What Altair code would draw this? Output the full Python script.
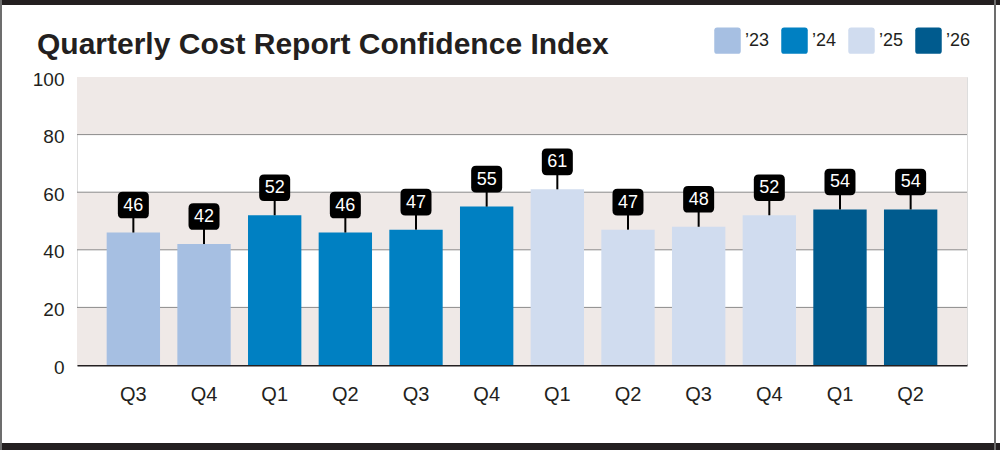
import altair as alt
import pandas as pd

# ---- data ----
years = ["’23", "’23", "’24", "’24", "’24", "’24", "’25", "’25", "’25", "’25", "’26", "’26"]
quarters = ["Q3", "Q4", "Q1", "Q2", "Q3", "Q4", "Q1", "Q2", "Q3", "Q4", "Q1", "Q2"]
values = [46, 42, 52, 46, 47, 55, 61, 47, 48, 52, 54, 54]
legend_years = ["’23", "’24", "’25", "’26"]
year_colors = ["#a6bfe2", "#0080c2", "#d0dcef", "#005b8e"]
band_lo = [0, 40, 80]
band_hi = [20, 60, 100]
grid_values = [20, 40, 60, 80]
y_ticks = [0, 20, 40, 60, 80, 100]

FONT = "Liberation Sans"
INK = "#231f20"
W, H = 890, 288

df = pd.DataFrame({
    "key": [f"{y} {q}" for y, q in zip(years, quarters)],
    "year": years,
    "quarter": quarters,
    "value": values,
})
bands = pd.DataFrame({"lo": band_lo, "hi": band_hi})
grid = pd.DataFrame({"g": grid_values})
one = pd.DataFrame({"a": [0]})

yscale = alt.Scale(domain=[0, 100], nice=False)
yaxis = alt.Axis(values=y_ticks, grid=False, ticks=False, tickSize=0, domain=False,
                 labelPadding=13, labelFontSize=19, labelColor=INK, labelFont=FONT,
                 labelOffset=2, title=None)
xenc = alt.X("key:N", sort=None, title=None,
             scale=alt.Scale(paddingInner=0.245, paddingOuter=0.42),
             axis=alt.Axis(labelExpr="split(datum.label, ' ')[1]", ticks=False, tickSize=0,
                           domain=True, domainColor=INK, domainWidth=2,
                           labelPadding=19, labelFontSize=20, labelColor=INK,
                           labelFont=FONT, labelAngle=0, grid=False))

band_layer = alt.Chart(bands).mark_rect(color="#efe9e7").encode(
    y=alt.Y("lo:Q", scale=yscale, axis=yaxis), y2="hi:Q",
    x=alt.value(0), x2=alt.value("width"))

grid_layer = alt.Chart(grid).mark_rule(color="#8a8a8a", strokeWidth=1).encode(
    y=alt.Y("g:Q", scale=yscale, axis=yaxis),
    x=alt.value(0), x2=alt.value("width"))

base = alt.Chart(df)
bars = base.mark_bar().encode(
    x=xenc,
    y=alt.Y("value:Q", scale=yscale, axis=yaxis),
    color=alt.Color("year:N", scale=alt.Scale(domain=legend_years, range=year_colors),
                    legend=alt.Legend(title=None, orient="none", direction="horizontal",
                                      legendX=637, legendY=-50, padding=0,
                                      symbolType="M -0.78 -1 L 0.78 -1 Q 1 -1 1 -0.78 L 1 0.78 Q 1 1 0.78 1 L -0.78 1 Q -1 1 -1 0.78 L -1 -0.78 Q -1 -1 -0.78 -1 Z",
                                      symbolSize=702, symbolStrokeWidth=0, symbolOpacity=1,
                                      labelFontSize=18, labelFont=FONT, labelColor=INK,
                                      labelOffset=4, columnPadding=11)),
)

stems = base.mark_rule(color="black", strokeWidth=2, y2Offset=-20).encode(
    x=xenc, y=alt.Y("value:Q", scale=yscale, axis=yaxis), y2="value:Q")

box_path = ("M -0.68 -0.86 L 0.68 -0.86 Q 1 -0.86 1 -0.54 L 1 0.54 Q 1 0.86 0.68 0.86 "
            "L -0.68 0.86 Q -1 0.86 -1 0.54 L -1 -0.54 Q -1 -0.86 -0.68 -0.86 Z")
boxes = base.mark_point(shape=box_path, filled=True, color="black", opacity=1,
                        size=961, yOffset=-27.5, strokeWidth=0).encode(
    x=xenc, y=alt.Y("value:Q", scale=yscale, axis=yaxis))

labels = base.mark_text(color="white", fontSize=18, font=FONT, baseline="middle",
                        yOffset=-27).encode(
    x=xenc, y=alt.Y("value:Q", scale=yscale, axis=yaxis), text="value:Q")

frame_top = alt.Chart(one).mark_rule(color=INK, strokeWidth=5).encode(
    x=alt.value(-77), x2=alt.value(923), y=alt.value(-74.5))
frame_bottom = alt.Chart(one).mark_rule(color=INK, strokeWidth=7).encode(
    x=alt.value(-77), x2=alt.value(923), y=alt.value(369.5))
frame_left = alt.Chart(one).mark_rule(color="#6d6d6d", strokeWidth=2).encode(
    x=alt.value(-76), y=alt.value(-77), y2=alt.value(373))
frame_right = alt.Chart(one).mark_rule(color="#6d6d6d", strokeWidth=2).encode(
    x=alt.value(918), y=alt.value(-77), y2=alt.value(373))

chart = alt.layer(
    band_layer, grid_layer, bars, stems, boxes, labels,
    frame_top, frame_bottom, frame_left, frame_right,
).properties(
    width=W, height=H,
    title=alt.TitleParams("Quarterly Cost Report Confidence Index", anchor="start",
                          frame="group", fontSize=30, font=FONT, fontWeight="bold",
                          color=INK, dx=-40, dy=65),
    autosize=alt.AutoSizeParams(type="none"),
    padding={"left": 77, "top": 77, "right": 33, "bottom": 85},
    background="white",
).configure_view(stroke=None).configure(font=FONT)

chart.save("out.html", embed_options={"renderer": "svg", "actions": False})
